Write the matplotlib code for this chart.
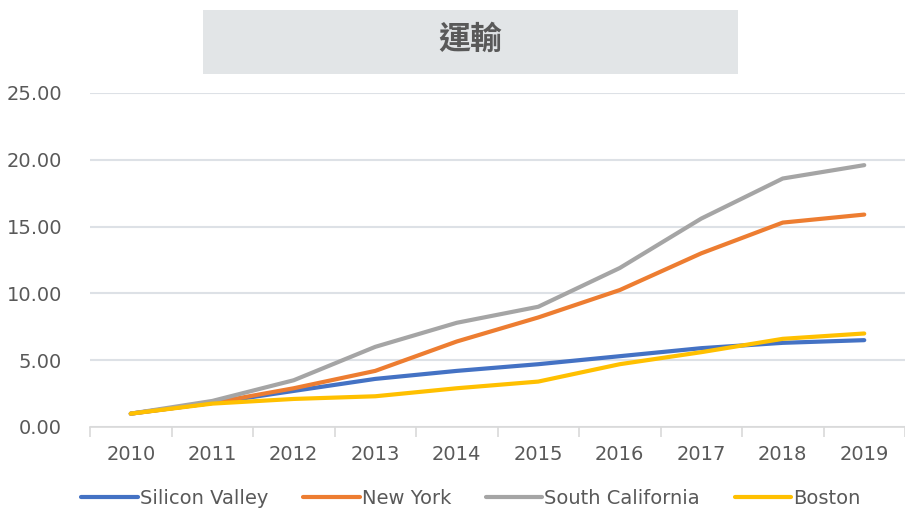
import matplotlib.pyplot as plt
from matplotlib.patches import Rectangle
from matplotlib.ticker import FixedLocator, FormatStrFormatter

plt.rcParams['font.family'] = ['DejaVu Sans']

# Datos
years = ['2010', '2011', '2012', '2013', '2014', '2015', '2016', '2017', '2018', '2019']
silicon_valley = [1.0, 1.8, 2.7, 3.6, 4.2, 4.7, 5.3, 5.9, 6.3, 6.5]
new_york = [1.0, 1.8, 2.9, 4.2, 6.4, 8.2, 10.25, 13.0, 15.3, 15.9]
south_california = [1.0, 1.95, 3.5, 6.0, 7.8, 9.0, 11.9, 15.6, 18.6, 19.6]
boston = [1.0, 1.75, 2.1, 2.3, 2.9, 3.4, 4.7, 5.6, 6.6, 7.0]

series = [('Silicon Valley', silicon_valley, '#4472C4'),
          ('New York', new_york, '#ED7D31'),
          ('South California', south_california, '#A5A5A5'),
          ('Boston', boston, '#FFC000')]

fig = plt.figure(figsize=(9.05, 5.08), dpi=100)
ax = fig.add_axes([90 / 905, 81 / 508, 815 / 905, 334 / 508])

x = list(range(len(years)))
for name, vals, col in series:
    ax.plot(x, vals, color=col, linewidth=3, label=name, solid_capstyle='round')

ax.set_xlim(-0.5, len(years) - 0.5)
ax.set_ylim(0, 25)
ax.set_yticks([0, 5, 10, 15, 20, 25])
ax.yaxis.set_major_formatter(FormatStrFormatter('%.2f'))
ax.grid(axis='y', color='#dde1e6', linewidth=1.5)
ax.set_axisbelow(True)

ax.set_xticks(x)
ax.set_xticklabels(years)
ax.xaxis.set_minor_locator(FixedLocator([i - 0.5 for i in range(len(years) + 1)]))
ax.tick_params(axis='x', which='major', length=0, pad=13, labelsize=14, labelcolor='#595959')
ax.tick_params(axis='x', which='minor', length=7, color='#d9d9d9', width=1.2)
ax.tick_params(axis='y', length=0, pad=20, labelsize=14, labelcolor='#595959')

for s in ['top', 'right', 'left']:
    ax.spines[s].set_visible(False)
ax.spines['bottom'].set_color('#d9d9d9')
ax.spines['bottom'].set_linewidth(1.2)

# Caja del título
fig.patches.append(Rectangle((203 / 905, 434 / 508), 535 / 905, 64 / 508,
                             transform=fig.transFigure, facecolor='#e2e5e7',
                             edgecolor='none'))
fig.text(470 / 905, 468 / 508, '運輸', ha='center', va='center', fontsize=23,
         fontweight='bold', color='#595959', family=['Noto Sans CJK TC', 'DejaVu Sans'])

fig.legend(loc='center', bbox_to_anchor=(471 / 905, 10 / 508), ncol=4, frameon=False,
           fontsize=14, handlelength=2.9, handletextpad=0.1, columnspacing=1.8,
           labelcolor='#595959')

fig.savefig('out.png', dpi=100)
